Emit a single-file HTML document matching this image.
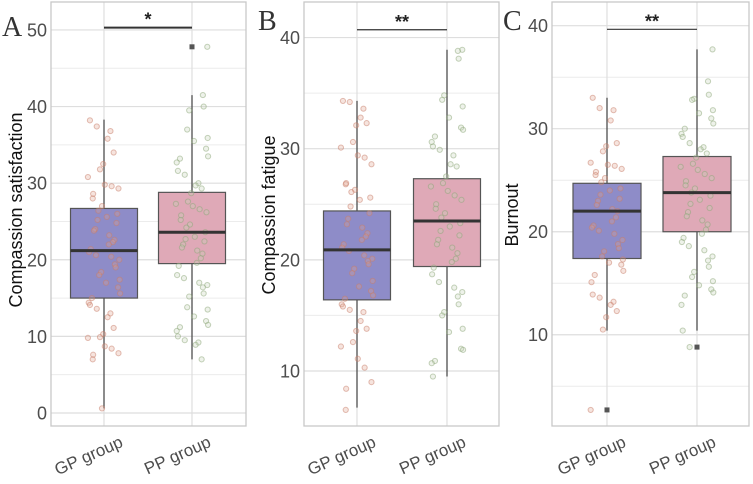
<!DOCTYPE html>
<html><head><meta charset="utf-8">
<style>
html,body{margin:0;padding:0;background:#fff;}
svg{display:block;font-family:"Liberation Sans",sans-serif;}
</style></head>
<body>
<svg id="chart" width="753" height="484" viewBox="0 0 753 484"></svg>
<script>
const categories = ["GP group", "PP group"];
const panelLetters = ["A", "B", "C"];
const yTitles = ["Compassion satisfaction", "Compassion fatigue", "Burnout"];
const significance = ["*", "**", "**"];
const sigLevels = [50.3, 40.7, 39.65];
const yTicks = [[0,10,20,30,40,50],[10,20,30,40],[10,20,30,40]];
const yMinor = [[5,15,25,35,45],[15,25,35],[5,15,25,35]];
// box stats: [whiskerLow, q1, median, q3, whiskerHigh]
const boxA_GP = [0.6, 15, 21.2, 26.7, 38.3];
const boxA_PP = [7, 19.5, 23.6, 28.8, 41.5];
const boxB_GP = [6.7, 16.4, 20.9, 24.4, 34.3];
const boxB_PP = [9.5, 19.4, 23.5, 27.3, 38.9];
const boxC_GP = [10.4, 17.4, 22.0, 24.7, 33.0];
const boxC_PP = [10.4, 20.0, 23.8, 27.3, 37.7];
const outA_GP = [];
const outA_PP = [47.8];
const outB_GP = [];
const outB_PP = [];
const outC_GP = [2.7];
const outC_PP = [8.8];
// jittered observations
const ptsA_GP = [38.2,37.4,36.8,35.8,34,32.5,31.8,30.8,29.8,29.6,29.3,28.6,28,27,26.4,26,25.6,25.2,24.8,24,23.8,23.2,22.6,22.3,22,21.4,21,20.6,20.4,20,19.4,19,18.4,18,17.4,17,16.4,15.6,15,14.4,14.1,13.6,13,12.5,11.1,10.3,9.9,9.8,8.7,8.4,7.8,7.6,7,0.6];
const ptsA_PP = [47.8,41.5,40,39.5,37,35.9,35.5,34.5,33.5,33.2,32.7,31.6,31.1,30,29.7,29.3,28.7,27.6,27.3,27,26.6,26.2,25.8,25.2,24.6,24.2,23.6,23,22.7,22.4,22,21.6,21.2,20.8,20.2,19.6,19.2,18,17.6,17,16.7,16.4,15.6,15.2,13.8,13.5,12.6,12,11.5,11.2,10.7,10,9.5,9.2,8.9,7];
const ptsB_GP = [34.3,34.2,33.6,32.8,32.3,32.1,30.6,30.1,29.4,29.2,28.6,26.9,26.8,26.3,26.1,25.6,25.4,24.8,24.2,23.7,23.2,22.9,22.4,22.1,21.8,21.4,21.1,20.8,20.4,20.1,19.9,19.6,19.2,18.8,18.1,17.6,17.2,16.8,16.5,16,15.8,15.5,15.3,14.5,13.8,13.6,12.6,12.2,11.1,10.3,9,8.4,6.5];
const ptsB_PP = [38.9,38.8,38.1,34.8,34.4,33.8,32.8,31.9,31.7,31.1,30.6,30.2,29.9,29.4,28.6,28.4,27.5,26.9,26.6,26.2,25.8,25.4,25,24.6,24.2,23.8,23.3,23,22.6,22.2,21.8,21.4,21.1,20.6,20.1,19.8,19.3,18.7,18,17.5,17.1,16.7,16,15.3,15,13.8,13.5,12,11.9,10.9,10.7,9.5];
const ptsC_GP = [33,32,31.8,30.8,28.6,28.3,27.8,26.7,26.5,26.4,26.1,25.8,25.5,25.2,24.8,24.2,24,23.6,23.2,23,22.6,22.2,22,21.4,21,20.6,20.4,20.1,19.8,19.2,18.8,18.4,18.1,17.6,17.3,17,16.8,16.2,15.8,15.1,13.9,13.6,13.2,12.9,12.3,11.7,10.5,2.7];
const ptsC_PP = [37.7,34.6,33.3,32.9,32.8,31.8,31.5,31,30.5,30,29.5,29.2,28.6,28.2,28,27.6,27.2,26.6,26.3,26,25.6,25.2,24.9,24.5,24.2,23.8,23.5,23.1,22.7,22.3,21.9,21.5,21.1,20.7,20.2,19.8,19.4,19,18.6,18.2,17.6,17.2,16.6,16.1,15.6,15.2,14.8,14.4,14.1,13.8,12.9,10.4,8.8];
const jitter = [-0.35,0.22,-0.1,0.38,-0.28,0.05,0.31,-0.18,0.12,-0.4,0.27,-0.05,0.35,-0.22,0.16,-0.33,0.02,0.29,-0.14,0.4,-0.25,0.09,-0.37,0.19,-0.07,0.33,-0.3,0.13,0.24,-0.2,0.36,-0.12,0.07,-0.38,0.26,-0.02,0.18,-0.27,0.39,-0.16];

const panels = [
  {box:[boxA_GP,boxA_PP], out:[outA_GP,outA_PP], pts:[ptsA_GP,ptsA_PP], left:51, right:246, top:2, bottom:426, vTop:53.65, vBot:-1.7, cx:[104,192], hw:33.5, lx:2, ly:36, tx:16, ty:210},
  {box:[boxB_GP,boxB_PP], out:[outB_GP,outB_PP], pts:[ptsB_GP,ptsB_PP], left:304, right:499, top:2, bottom:426, vTop:43.2, vBot:5.05, cx:[357,447], hw:33.5, lx:258, ly:30, tx:269, ty:215},
  {box:[boxC_GP,boxC_PP], out:[outC_GP,outC_PP], pts:[ptsC_GP,ptsC_PP], left:552, right:749, top:2, bottom:426, vTop:42.3, vBot:1.14, cx:[607,697], hw:34, lx:503, ly:30, tx:512, ty:215}
];
const boxFill = ["#8e8cc8", "#dfa9b7"];
const ptStroke = ["rgba(200,125,105,0.5)", "rgba(140,165,120,0.5)"];
const ptFill = ["rgba(225,165,145,0.3)", "rgba(200,212,185,0.3)"];

const NS = "http://www.w3.org/2000/svg";
const svg = document.getElementById("chart");
function mk(tag, attrs, parent) {
  const e = document.createElementNS(NS, tag);
  for (const k in attrs) e.setAttribute(k, attrs[k]);
  (parent || svg).appendChild(e);
  return e;
}

panels.forEach((p, pi) => {
  const g = mk("g", {});
  
  
  const y = v => p.top + (p.vTop - v) / (p.vTop - p.vBot) * (p.bottom - p.top);
  yMinor[pi].forEach(v => {
    const l = mk("line", {x1:p.left, x2:p.right, y1:y(v), y2:y(v), stroke:"#ececec", "stroke-width":1}, g);
    
    
  });
  yTicks[pi].forEach(v => {
    const l = mk("line", {x1:p.left, x2:p.right, y1:y(v), y2:y(v), stroke:"#dedede", "stroke-width":1.2}, g);
    
    
    const t = mk("text", {x:p.left - 4, y:y(v) + 6.5, "text-anchor":"end", "font-size":18, fill:"#4d4d4d"}, g);
    t.textContent = v;
    
    
  });
  p.cx.forEach(cx => {
    const l = mk("line", {x1:cx, x2:cx, y1:p.top, y2:p.bottom, stroke:"#dedede", "stroke-width":1.2}, g);
    
    
  });
  const frame = mk("rect", {x:p.left, y:p.top, width:p.right - p.left, height:p.bottom - p.top, fill:"none", stroke:"#c8c8c8", "stroke-width":1.3}, g);
  
  

  categories.forEach((cat, ci) => {
    const b = p.box[ci], cx = p.cx[ci];
    const w = mk("line", {x1:cx, x2:cx, y1:y(b[0]), y2:y(b[4]), stroke:"#444", "stroke-width":1.2}, g);
    
    
    const r = mk("rect", {x:cx - p.hw, y:y(b[3]), width:2 * p.hw, height:y(b[1]) - y(b[3]), fill:boxFill[ci], stroke:"#555", "stroke-width":1.2}, g);
    
    
    p.out[ci].forEach(v => {
      const o = mk("rect", {x:cx - 2.5, y:y(v) - 2.5, width:5, height:5, fill:"#555"}, g);
      
      
    });
    p.pts[ci].forEach((v, i) => {
      const jx = jitter[(i * 7 + ci * 3) % jitter.length];
      const c = mk("circle", {cx:cx + jx * 2 * p.hw * 0.6, cy:y(v), r:2.6, fill:ptFill[ci], stroke:ptStroke[ci], "stroke-width":1}, g);
      
      
    });
    const m = mk("line", {x1:cx - p.hw, x2:cx + p.hw, y1:y(b[2]), y2:y(b[2]), stroke:"#333", "stroke-width":3}, g);
    
    
    const xl = mk("text", {x:0, y:0, "text-anchor":"end", "font-size":17, fill:"#4d4d4d", transform:"translate(" + (cx + 20) + "," + (p.bottom + 20) + ") rotate(-24)"}, g);
    xl.textContent = cat;
    
    
  });
  const sy = y(sigLevels[pi]);
  const s = mk("line", {x1:p.cx[0], x2:p.cx[1], y1:sy, y2:sy, stroke:"#333", "stroke-width":pi === 0 ? 2 : 1.2}, g);
  
  
  const st = mk("text", {x:(p.cx[0] + p.cx[1]) / 2, y:sy - 2, "text-anchor":"middle", "font-size":18, "font-weight":"bold", fill:"#222"}, g);
  st.textContent = significance[pi];
  
  
  const yt = mk("text", {x:0, y:0, "text-anchor":"middle", "font-size":18, fill:"#111", transform:"translate(" + (p.tx + 6) + "," + p.ty + ") rotate(-90)"}, g);
  yt.textContent = yTitles[pi];
  
  
  const lt = mk("text", {x:p.lx, y:p.ly, "font-size":28, fill:"#333", "font-family":"Liberation Serif, serif"}, g);
  lt.textContent = panelLetters[pi];
  
  
});
</script>
</body></html>
